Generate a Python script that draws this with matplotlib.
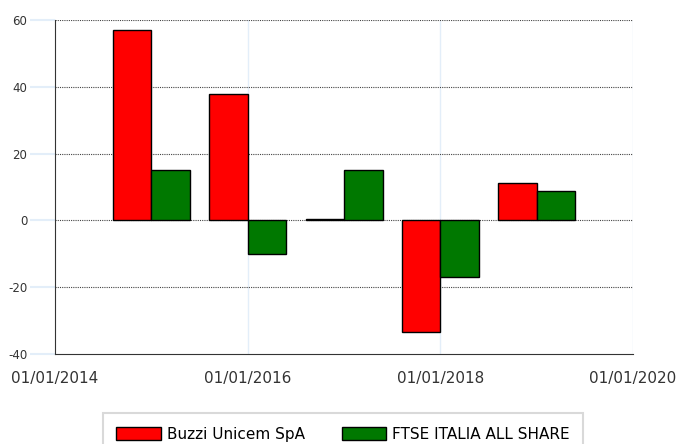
import numpy as np
import pandas as pd
import matplotlib
matplotlib.use("Agg")
import matplotlib.pyplot as plt
import matplotlib.dates as mdates

# data
years = ["2015-01-01", "2016-01-01", "2017-01-01", "2018-01-01", "2019-01-01"]
buzzi = [57.0, 37.8, 0.4, -33.3, 11.2]
ftse = [15.2, -10.2, 15.2, -17.0, 8.8]
series_names = ["Buzzi Unicem SpA", "FTSE ITALIA ALL SHARE"]
xtick_dates = ["2014-01-01", "2016-01-01", "2018-01-01", "2020-01-01"]
ytick_vals = [-40, -20, 0, 20, 40, 60]

x = mdates.date2num(pd.to_datetime(years))
width = 146  # days

fig = plt.figure(figsize=(6.78, 4.44), dpi=100)
ax = fig.add_axes([55 / 678, 90 / 444, 578 / 678, 334 / 444])

ax.bar(x - width, buzzi, width=width, align="edge", color="#ff0000",
       edgecolor="black", linewidth=1, label=series_names[0], zorder=3)
ax.bar(x, ftse, width=width, align="edge", color="#007800",
       edgecolor="black", linewidth=1, label=series_names[1], zorder=3)

ax.set_xlim(mdates.date2num(pd.Timestamp("2014-01-01")),
            mdates.date2num(pd.Timestamp("2020-01-01")))
ax.set_ylim(-40, 60)
ax.set_xticks(mdates.date2num(pd.to_datetime(xtick_dates)))
ax.set_xticklabels([pd.Timestamp(d).strftime("%d/%m/%Y") for d in xtick_dates],
                   fontsize=11, color="#333333")
ax.set_yticks(ytick_vals)
ax.set_yticklabels([str(v) for v in ytick_vals], fontsize=8.5, color="#333333")

ax.tick_params(axis="y", length=18, width=1.5, color="#e3eef9", pad=2)
ax.tick_params(axis="x", length=0, pad=12)

for spine in ["top", "right"]:
    ax.spines[spine].set_visible(False)
ax.spines["left"].set_color("#333333")
ax.spines["bottom"].set_color("#333333")

# horizontal dotted grid, faint vertical grid
for v in ytick_vals[1:]:
    ax.axhline(v, color="#444444", linestyle=(0, (1, 1)), linewidth=0.8, zorder=1)
for d in xtick_dates[1:]:
    ax.axvline(mdates.date2num(pd.Timestamp(d)), color="#e3eef9",
               linewidth=1, zorder=0)

leg = fig.legend(loc="upper center", bbox_to_anchor=(343 / 678, 31 / 444), ncol=2,
                 fontsize=11, frameon=True, fancybox=False, edgecolor="#d0d0d0",
                 handlelength=2.9, handleheight=1.0, handletextpad=0.4,
                 borderpad=0.9, borderaxespad=0, columnspacing=2.4)
leg.get_frame().set_linewidth(1.5)

fig.savefig("out.png", dpi=100)
